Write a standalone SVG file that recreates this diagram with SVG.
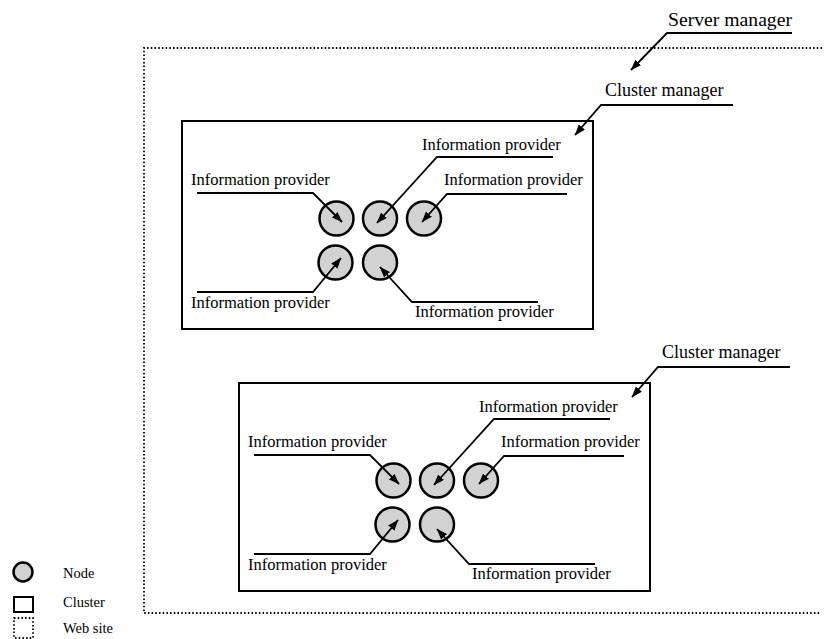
<svg xmlns="http://www.w3.org/2000/svg" width="826" height="639" viewBox="0 0 826 639">
  <style>
    .lbl { font-family: "Liberation Serif", "Times New Roman", serif; font-size: 16.5px; fill: #000; }
    .mgr { font-family: "Liberation Serif", "Times New Roman", serif; font-size: 18px; fill: #000; }
    .leg { font-family: "Liberation Serif", "Times New Roman", serif; font-size: 14.5px; fill: #000; }
    .node { fill: #d2d2d2; stroke: #000; stroke-width: 2.5; }
    .cluster { fill: none; stroke: #000; stroke-width: 2; }
    .site { fill: none; stroke: #000; stroke-width: 1.8; stroke-dasharray: 1.5 2.2; }
    .lead { fill: none; stroke: #000; stroke-width: 1.8; marker-end: url(#arrow); }
  </style>
  <defs>
    <marker id="arrow" markerUnits="userSpaceOnUse" markerWidth="11" markerHeight="8" refX="10.5" refY="4" orient="auto">
      <path d="M0,0 L11,4 L0,8 Z" fill="#000"/>
    </marker>
  </defs>

  <rect width="826" height="639" fill="#fff"/>

  <!-- Web site boundary (open on the right) -->
  <g id="web-site">
    <path class="site" d="M822,48 H144 V613 H820"/>
  </g>

  <!-- Server manager label -->
  <g id="server-manager">
    <text class="mgr" x="668" y="26" textLength="124" lengthAdjust="spacingAndGlyphs">Server manager</text>
  </g>

  <!-- Cluster 1 -->
  <g id="cluster-1">
    <rect class="cluster" x="182" y="121" width="411" height="208"/>
    <text class="mgr" x="605" y="96">Cluster manager</text>
    <text class="lbl" x="422" y="150">Information provider</text>
    <text class="lbl" x="191" y="185">Information provider</text>
    <text class="lbl" x="444" y="185">Information provider</text>
    <text class="lbl" x="191" y="308">Information provider</text>
    <text class="lbl" x="415" y="317">Information provider</text>
  </g>
  <g id="c1-node-1"><circle class="node" cx="336.5" cy="218.5" r="17"/></g>
  <g id="c1-node-2"><circle class="node" cx="380" cy="218.5" r="17"/></g>
  <g id="c1-node-3"><circle class="node" cx="424" cy="218.5" r="17"/></g>
  <g id="c1-node-4"><circle class="node" cx="335.5" cy="262.5" r="17"/></g>
  <g id="c1-node-5"><circle class="node" cx="380" cy="262.5" r="17"/></g>

  <!-- Cluster 2 -->
  <g id="cluster-2" transform="translate(57,262)">
    <rect class="cluster" x="182" y="121" width="411" height="208"/>
    <text class="mgr" x="605" y="96">Cluster manager</text>
    <text class="lbl" x="422" y="150">Information provider</text>
    <text class="lbl" x="191" y="185">Information provider</text>
    <text class="lbl" x="444" y="185">Information provider</text>
    <text class="lbl" x="191" y="308">Information provider</text>
    <text class="lbl" x="415" y="317">Information provider</text>
  </g>
  <g id="c2-node-1"><circle class="node" cx="393.5" cy="480.5" r="17"/></g>
  <g id="c2-node-2"><circle class="node" cx="437" cy="480.5" r="17"/></g>
  <g id="c2-node-3"><circle class="node" cx="481" cy="480.5" r="17"/></g>
  <g id="c2-node-4"><circle class="node" cx="392.5" cy="524.5" r="17"/></g>
  <g id="c2-node-5"><circle class="node" cx="437" cy="524.5" r="17"/></g>

  <!-- Leader lines with arrowheads -->
  <g id="connectors">
    <path class="lead" d="M792,33 H667 L631,70"/>
    <g id="c1-leaders">
      <path class="lead" d="M733,105 H601 L575,135"/>
      <path class="lead" d="M553,157 H437 L377,223"/>
      <path class="lead" d="M197,193 H313 L342,222"/>
      <path class="lead" d="M567,194 H447 L422,222"/>
      <path class="lead" d="M197,292 H313 L341,258"/>
      <path class="lead" d="M538,302 H412 L380,267"/>
    </g>
    <g id="c2-leaders" transform="translate(57,262)">
      <path class="lead" d="M733,105 H601 L575,135"/>
      <path class="lead" d="M553,157 H437 L377,223"/>
      <path class="lead" d="M197,193 H313 L342,222"/>
      <path class="lead" d="M567,194 H447 L422,222"/>
      <path class="lead" d="M197,292 H313 L341,258"/>
      <path class="lead" d="M538,302 H412 L380,267"/>
    </g>
  </g>

  <!-- Legend -->
  <g id="legend">
    <circle class="node" cx="23" cy="572" r="9.5" stroke-width="2"/>
    <rect class="cluster" x="14" y="597" width="19" height="15"/>
    <rect class="site" x="14" y="618" width="19" height="20"/>
    <text class="leg" x="63" y="578">Node</text>
    <text class="leg" x="63" y="607">Cluster</text>
    <text class="leg" x="63" y="633">Web site</text>
  </g>
</svg>
